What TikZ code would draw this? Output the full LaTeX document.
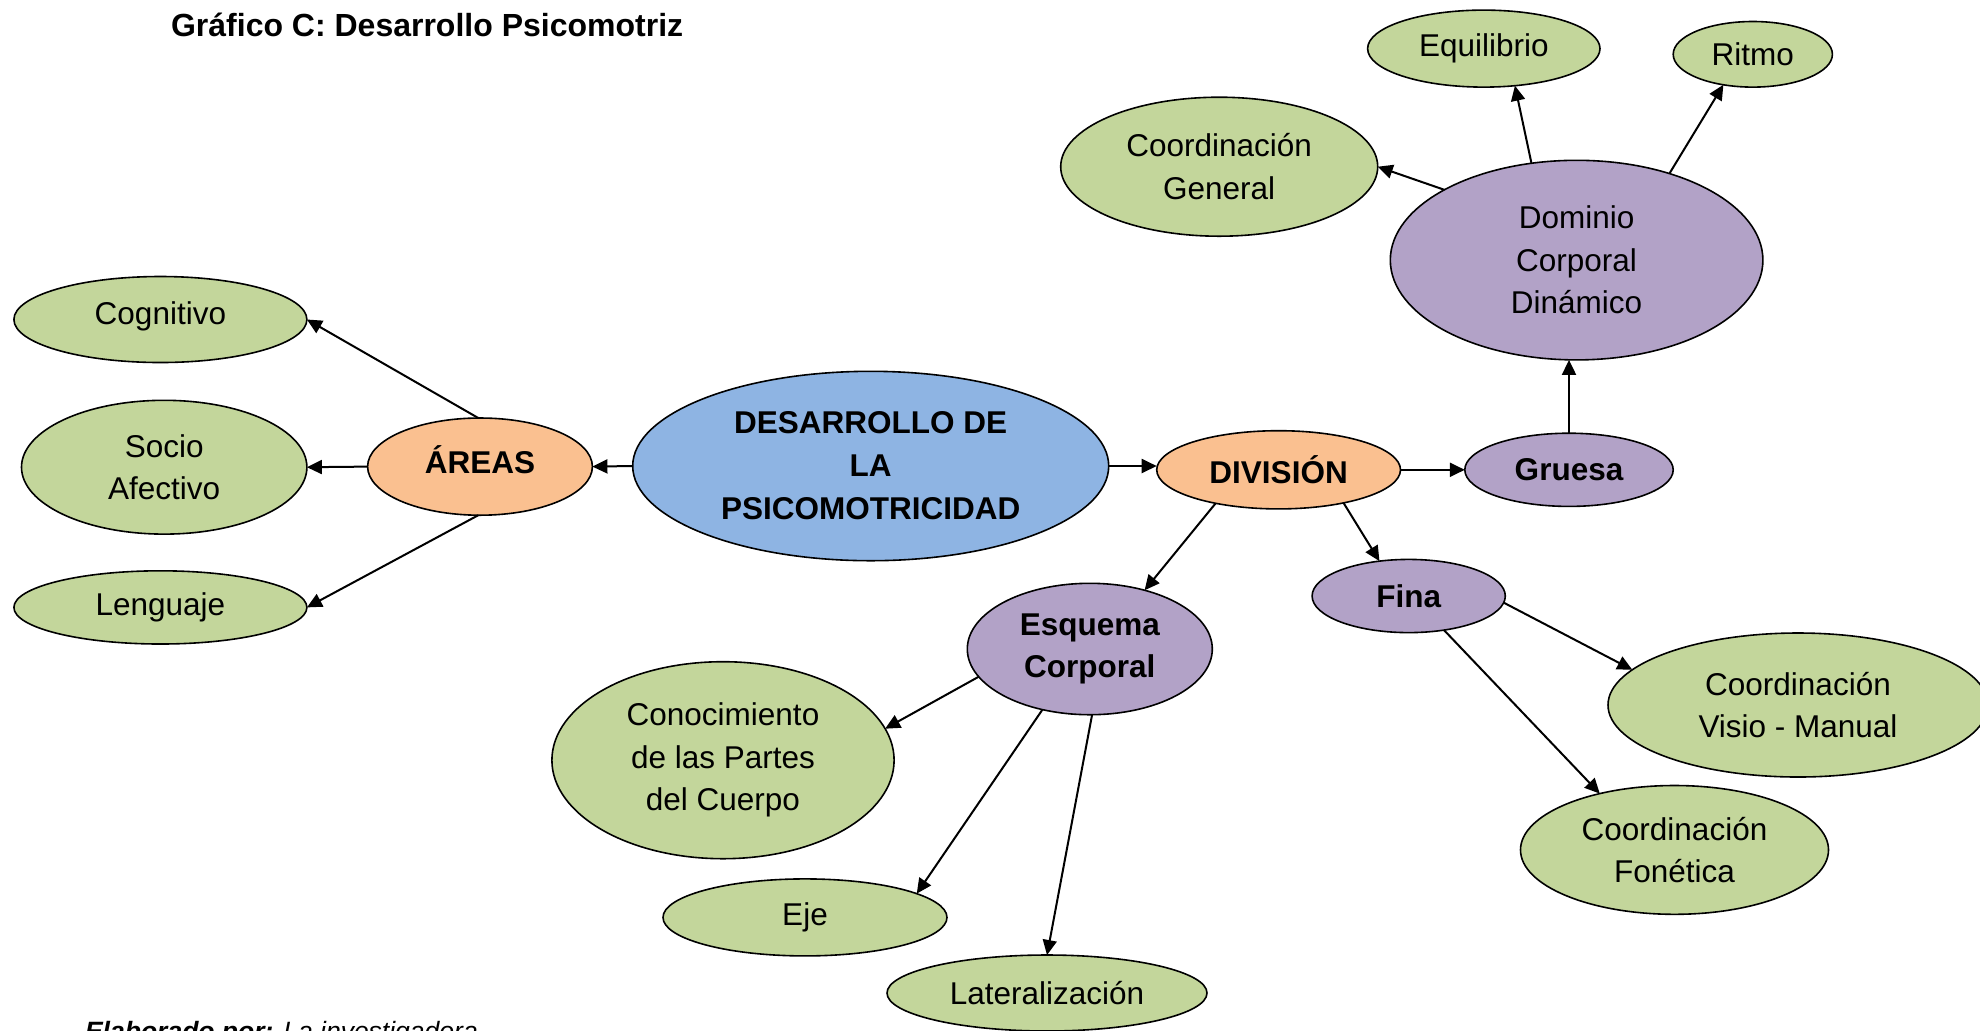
\documentclass[tikz,border=0pt]{standalone}
\usepackage{fontspec}
\setmainfont{Liberation Sans}
\usetikzlibrary{shapes.geometric,arrows.meta}
\definecolor{cgreen}{RGB}{195,214,155}
\definecolor{cblue}{RGB}{142,180,227}
\definecolor{corange}{RGB}{250,192,144}
\definecolor{cpurple}{RGB}{178,162,199}
\tikzset{
  ell/.style={ellipse, draw=black, line width=0.8pt, inner sep=0pt, outer sep=0pt, align=center,
    font=\fontsize{15.75}{21.3}\selectfont},
  grn/.style={ell, fill=cgreen},
  blu/.style={ell, fill=cblue, font=\fontsize{15.75}{21.5}\selectfont\bfseries},
  org/.style={ell, fill=corange, font=\fontsize{15.75}{21}\selectfont\bfseries},
  pur/.style={ell, fill=cpurple},
  purb/.style={ell, fill=cpurple, font=\fontsize{15.75}{21.3}\selectfont\bfseries},
  arr/.style={-{Triangle[length=7.5pt,width=7pt]}, line width=1pt, shorten >=0pt}
}
\begin{document}
\begin{tikzpicture}[x=0.5pt,y=-0.5pt]
\useasboundingbox (0,0) rectangle (1980,1030);
\clip (0,0) rectangle (1980,1030);
\node[anchor=base west, font=\fontsize{16}{19}\selectfont\bfseries] (title) at (164,36) {Gráfico C: Desarrollo Psicomotriz};
\node[anchor=base west, font=\fontsize{13.25}{16}\selectfont] (foot) at (78,1040) {\textbf{\textit{Elaborado por:}} \textit{La investigadora}};

\node[blu, minimum width=238pt, minimum height=94.7pt] (cen) at (870.7,466) {DESARROLLO DE\\LA\\PSICOMOTRICIDAD};
\node[org, minimum width=112.4pt, minimum height=48.6pt] (areas) at (480,466.6) {\raisebox{3.5pt}[\height][\depth]{ÁREAS}};
\node[grn, minimum width=146.5pt, minimum height=43pt] (cog) at (160.4,319.5) {\raisebox{1.5pt}[\height][\depth]{Cognitivo}};
\node[grn, minimum width=142.7pt, minimum height=66.9pt] (soc) at (164.2,467.2) {Socio\\Afectivo};
\node[grn, minimum width=146.5pt, minimum height=36.6pt] (len) at (160.4,607.4) {Lenguaje};
\node[org, minimum width=121.9pt, minimum height=39.1pt] (div) at (1278.6,469.8) {DIVISIÓN};
\node[purb, minimum width=104.2pt, minimum height=36.6pt] (gru) at (1569,469.8) {Gruesa};
\node[pur, minimum width=186.3pt, minimum height=99.8pt] (dom) at (1576.6,260.1) {Dominio\\Corporal\\Dinámico};
\node[grn, minimum width=158.5pt, minimum height=69.5pt] (cg) at (1219.2,166.7) {Coordinación\\General};
\node[grn, minimum width=116.2pt, minimum height=38.5pt] (equ) at (1483.8,48.6) {Equilibrio};
\node[grn, minimum width=79.6pt, minimum height=32.8pt] (rit) at (1752.8,54.3) {Ritmo};
\node[purb, minimum width=96.6pt, minimum height=36.6pt] (fina) at (1408.7,596) {Fina};
\node[purb, minimum width=122.5pt, minimum height=65.7pt] (esq) at (1089.8,649) {Esquema\\Corporal};
\node[grn, minimum width=171.1pt, minimum height=98.5pt] (con) at (723,760.2) {Conocimiento\\de las Partes\\del Cuerpo};
\node[grn, minimum width=142pt, minimum height=38.5pt] (eje) at (805,917.4) {Eje};
\node[grn, minimum width=160pt, minimum height=38pt] (lat) at (1047,993) {Lateralización};
\node[grn, minimum width=190pt, minimum height=72pt] (vis) at (1798,705) {Coordinación\\Visio - Manual};
\node[grn, minimum width=154pt, minimum height=64.4pt] (fon) at (1674.5,849.9) {Coordinación\\Fonética};

\draw[arr] (areas.92) -- (cog.east);
\draw[arr] (areas.west) -- (soc.east);
\draw[arr] (areas.268) -- (len.east);
\draw[arr] (cen.west) -- (areas.east);
\draw[arr] (cen.east) -- (cen.east -| div.west);
\draw[arr] (div.east) -- (gru.west);
\draw[arr] (gru.north) -- (gru.north |- dom.south);
\draw[arr] (dom.152) -- (cg.east);
\draw[arr] (dom.115) -- (equ.310);
\draw[arr] (dom.43) -- (rit.226);
\draw[arr] (div.208) -- (esq.47);
\draw[arr] (div.333) -- (fina.130);
\draw[arr] (fina.356) -- (vis.168);
\draw[arr] (fina.316) -- (fon.143);
\draw[arr] (esq.194) -- (con.11);
\draw[arr] (esq.232) -- (eje.12);
\draw[arr] (esq.272) -- (lat.north);
\end{tikzpicture}
\end{document}
